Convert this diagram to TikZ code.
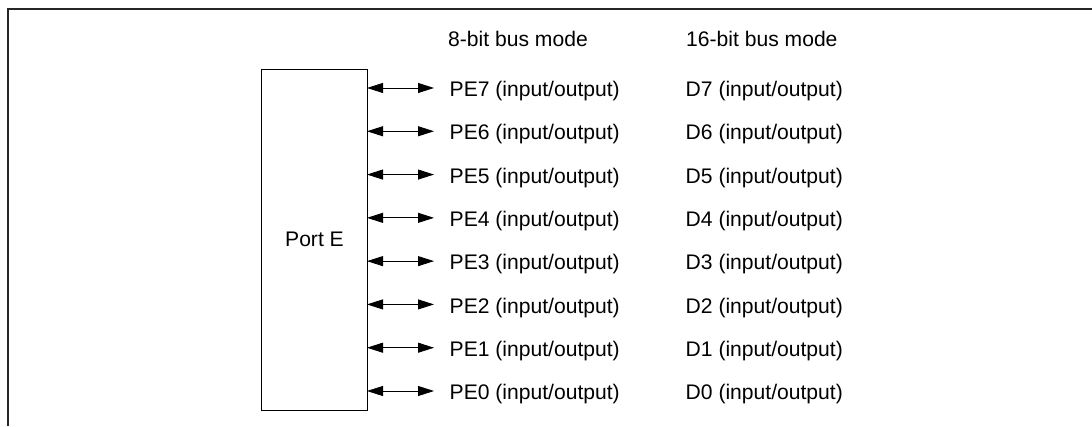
\documentclass[tikz,border=0pt]{standalone}
\usepackage{fontspec}
\setmainfont{Liberation Sans}
\usetikzlibrary{arrows.meta}
\begin{document}
\begin{tikzpicture}[x=1pt,y=-1pt,
  frameline/.style={line width=1.5pt,black!85},
  portbox/.style={draw,line width=1pt,minimum width=106pt,minimum height=340.5pt,inner sep=0pt},
  busarrow/.style={line width=0.8pt,{Triangle[length=16pt,width=10pt]}-{Triangle[length=16pt,width=10pt]}},
  lbl/.style={anchor=base west,inner sep=0pt,font=\fontsize{21.1}{25}\selectfont}
]
\useasboundingbox (0,0) rectangle (1092,426);
\coordinate (ftl) at (8,9);
\coordinate (ftr) at (1092,9);
\coordinate (fbl) at (8,426);
\draw[frameline] (ftr) -- (ftl) -- (fbl);
\node[portbox] (port) at (314,239.75) {};
\node[lbl,anchor=center] (portlbl) at (314.5,239) {Port E};
\node[lbl] (h8) at (448,46.7) {8-bit bus mode};
\node[lbl] (h16) at (686,46.7) {16-bit bus mode};
\foreach \i in {0,...,7} {
  \pgfmathsetmacro{\yy}{391-43.29*\i}
  \coordinate (s\i) at (367,\yy);
  \coordinate (e\i) at (434,\yy);
  \draw[busarrow] (s\i) -- (e\i);
  \node[lbl] (pe\i) at (449.5,\yy+8.7) {PE\i{} (input/output)};
  \node[lbl] (d\i) at (685.5,\yy+8.7) {D\i{} (input/output)};
}
\end{tikzpicture}
\end{document}
